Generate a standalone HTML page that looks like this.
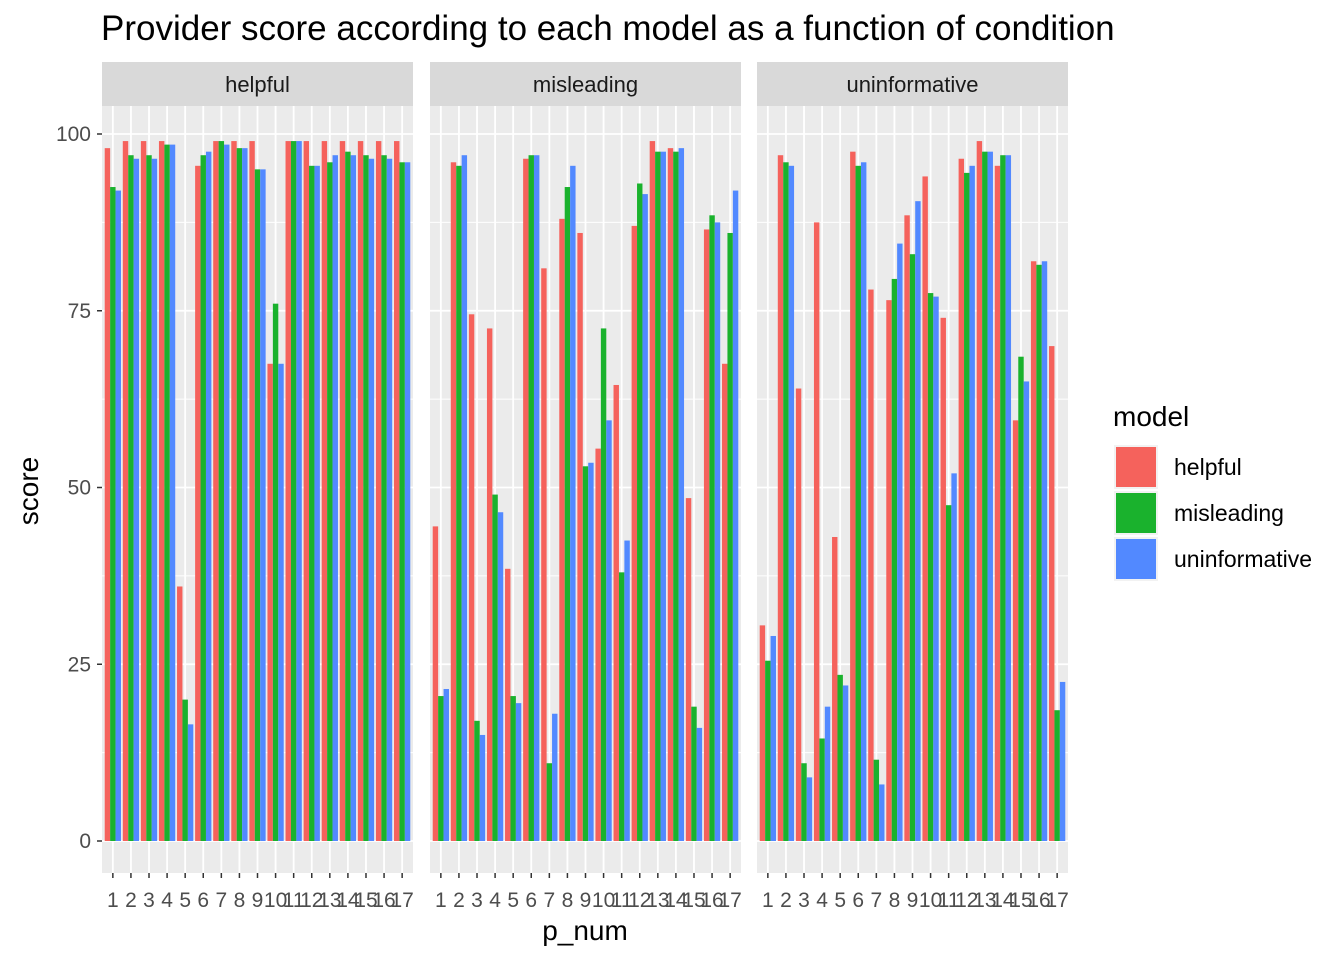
<!DOCTYPE html>
<html><head><meta charset="utf-8"><style>
body{margin:0;background:#fff;font-family:"Liberation Sans",Arial,sans-serif}
svg text{font-family:"Liberation Sans",Arial,sans-serif}
</style></head><body>
<svg id="chart" width="1344" height="960" xmlns="http://www.w3.org/2000/svg">
<text x="101" y="40" font-size="35" fill="#000">Provider score according to each model as a function of condition</text>
<g id="panels"></g>
<text x="585" y="940" font-size="28" text-anchor="middle">p_num</text>
<text transform="translate(38,491) rotate(-90)" font-size="28" text-anchor="middle">score</text>
<g id="legend"></g>
</svg>
<script>
const conditions = ["helpful","misleading","uninformative"];
const models = ["helpful","misleading","uninformative"];
const categories = [1,2,3,4,5,6,7,8,9,10,11,12,13,14,15,16,17];
const yTicks = [0,25,50,75,100];
const helpfulCond_helpful = [98,99,99,99,36,95.5,99,99,99,67.5,99,99,99,99,99,99,99];
const helpfulCond_misleading = [92.5,97,97,98.5,20,97,99,98,95,76,99,95.5,96,97.5,97,97,96];
const helpfulCond_uninformative = [92,96.5,96.5,98.5,16.5,97.5,98.5,98,95,67.5,99,95.5,97,97,96.5,96.5,96];
const misleadingCond_helpful = [44.5,96,74.5,72.5,38.5,96.5,81,88,86,55.5,64.5,87,99,98,48.5,86.5,67.5];
const misleadingCond_misleading = [20.5,95.5,17,49,20.5,97,11,92.5,53,72.5,38,93,97.5,97.5,19,88.5,86];
const misleadingCond_uninformative = [21.5,97,15,46.5,19.5,97,18,95.5,53.5,59.5,42.5,91.5,97.5,98,16,87.5,92];
const uninfCond_helpful = [30.5,97,64,87.5,43,97.5,78,76.5,88.5,94,74,96.5,99,95.5,59.5,82,70];
const uninfCond_misleading = [25.5,96,11,14.5,23.5,95.5,11.5,79.5,83,77.5,47.5,94.5,97.5,97,68.5,81.5,18.5];
const uninfCond_uninformative = [29,95.5,9,19,22,96,8,84.5,90.5,77,52,95.5,97.5,97,65,82,22.5];
const seriesByCondition = [
 [helpfulCond_helpful,helpfulCond_misleading,helpfulCond_uninformative],
 [misleadingCond_helpful,misleadingCond_misleading,misleadingCond_uninformative],
 [uninfCond_helpful,uninfCond_misleading,uninfCond_uninformative]
];
const colors = ["#F5625C","#1AB22D","#5289FF"];
const NS="http://www.w3.org/2000/svg";
const panelLefts=[102,430,757], panelW=311, plotTop=106, plotBot=873, stripTop=62;
const y = v => 841 - v*(841-134)/100;
function mk(tag,attrs,parent){const e=document.createElementNS(NS,tag);for(const k in attrs)e.setAttribute(k,attrs[k]);parent.appendChild(e);return e;}
const pg=document.getElementById('panels');
conditions.forEach((cond,p)=>{
  const L=panelLefts[p];
  const x = u => L + (u-0.4)*panelW/17.2;
  const g=mk('g',{},pg);
  
  
  const bg=mk('rect',{x:L,y:plotTop,width:panelW,height:plotBot-plotTop,fill:'#EBEBEB'},g);
  
  
  for(let v=12.5; v<=100; v+=25){mk('line',{x1:L,x2:L+panelW,y1:y(v),y2:y(v),stroke:'#fff','stroke-width':0.9},g);}
  yTicks.forEach(v=>{mk('line',{x1:L,x2:L+panelW,y1:y(v),y2:y(v),stroke:'#fff','stroke-width':1.8},g);});
  categories.forEach(c=>{mk('line',{x1:x(c),x2:x(c),y1:plotTop,y2:plotBot,stroke:'#fff','stroke-width':1.8},g);});
  const st=mk('rect',{x:L,y:stripTop,width:panelW,height:plotTop-stripTop,fill:'#D9D9D9'},g);
  
  
  const stt=mk('text',{x:L+panelW/2,y:92,'font-size':22,'text-anchor':'middle',fill:'#1A1A1A'},g);
  stt.textContent=cond;
  
  
  const bw=0.3;
  seriesByCondition[p].forEach((vals,m)=>{
    vals.forEach((v,i)=>{
      const c=categories[i];
      const x0=x(c-0.45+m*bw);
      const r=mk('rect',{x:x0,y:y(v),width:x(c-0.45+(m+1)*bw)-x0,height:y(0)-y(v),fill:colors[m]},g);
      
      
    });
  });
  categories.forEach(c=>{
    mk('line',{x1:x(c),x2:x(c),y1:plotBot,y2:plotBot+5,stroke:'#333','stroke-width':1.5},g);
    const t=mk('text',{x:x(c),y:907,'font-size':21,'text-anchor':'middle',fill:'#4D4D4D'},g);
    t.textContent=c;
    
    
  });
});
const svg=document.getElementById('chart');
yTicks.forEach(v=>{
  mk('line',{x1:97,x2:102,y1:y(v),y2:y(v),stroke:'#333','stroke-width':1.5},svg);
  const t=mk('text',{x:91,y:y(v)+7,'font-size':21,'text-anchor':'end',fill:'#4D4D4D'},svg);
  t.textContent=v;
  
  
});
const lg=document.getElementById('legend');
const lt=mk('text',{x:1113,y:426,'font-size':28},lg);
lt.textContent='model';


models.forEach((m,i)=>{
  const top=445+i*46;
  mk('rect',{x:1114,y:top,width:44,height:44,fill:'#F2F2F2'},lg);
  const k=mk('rect',{x:1116,y:top+2,width:40,height:40,fill:colors[i]},lg);
  
  
  const t=mk('text',{x:1174,y:top+30,'font-size':23},lg);
  t.textContent=m;
  
  
});
</script>
</body></html>
